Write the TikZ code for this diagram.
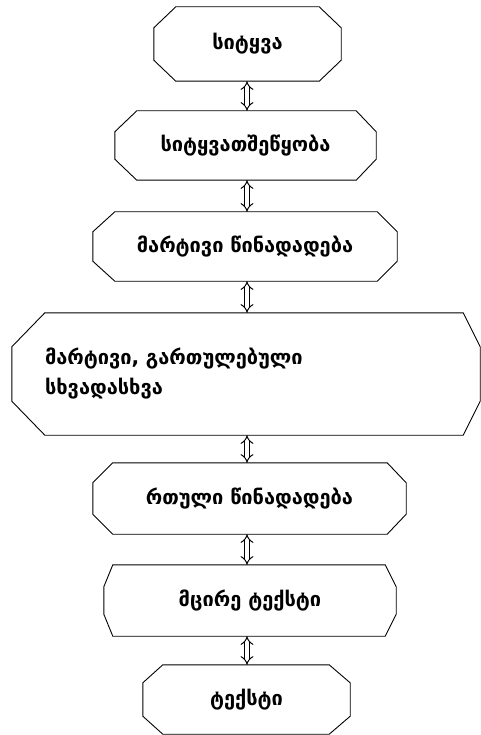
\documentclass[tikz,border=0pt]{standalone}
\usepackage{fontspec}
\newfontfamily\geofont[Script=Georgian]{DejaVu Sans}
\usetikzlibrary{arrows.meta}

\begin{document}
\begin{tikzpicture}[x=1pt, y=-1pt,
    every node/.append style={font=\geofont\bfseries\fontsize{20}{30}\selectfont, inner sep=0pt},
    link/.style={double, double distance=3.5pt, line width=1pt, {Implies}-{Implies}}]
    \useasboundingbox (0,0) rectangle (481,735);
    \coordinate (axis) at (247,0);

    \node[minimum width=187pt, minimum height=74pt] (word) at (247.5,44) {სიტყვა};
    \node[minimum width=261pt, minimum height=69pt] (phrase) at (245.5,145.5) {სიტყვათშეწყობა};
    \node[minimum width=304pt, minimum height=69pt] (simple) at (245,246.5) {მარტივი წინადადება};
    \node[minimum width=468pt, minimum height=122pt, text width=402pt, align=left] (mixed) at (246,374)
        {მარტივი, გართულებული\\სხვადასხვა};
    \node[minimum width=313pt, minimum height=71pt] (complex) at (249.5,498.5) {რთული წინადადება};
    \node[minimum width=292pt, minimum height=71pt] (small) at (250,600.5) {მცირე ტექსტი};
    \node[minimum width=207pt, minimum height=69pt] (text) at (246.5,699.5) {ტექსტი};

    % chamfered outlines: left, right, vertical cut
    \foreach \n/\lx/\rx/\vy in {word/22/22/21, phrase/22/20/21, simple/22/20/20,
                                mixed/33/17/34, complex/20/19/20, small/9/11/22, text/20/21/18}
        \draw[line width=0.9pt]
            ([xshift=\lx pt]\n.north west) -- ([xshift=-\rx pt]\n.north east)
            -- ([yshift=-\vy pt]\n.north east) -- ([yshift=\vy pt]\n.south east)
            -- ([xshift=-\rx pt]\n.south east) -- ([xshift=\lx pt]\n.south west)
            -- ([yshift=\vy pt]\n.south west) -- ([yshift=-\vy pt]\n.north west) -- cycle;

    \draw[link] (word.south -| axis) -- (phrase.north -| axis);
    \draw[link] (phrase.south -| axis) -- (simple.north -| axis);
    \draw[link] (simple.south -| axis) -- (mixed.north -| axis);
    \draw[link] (mixed.south -| axis) -- (complex.north -| axis);
    \draw[link] (complex.south -| axis) -- (small.north -| axis);
    \draw[link] (small.south -| axis) -- (text.north -| axis);
\end{tikzpicture}
\end{document}
